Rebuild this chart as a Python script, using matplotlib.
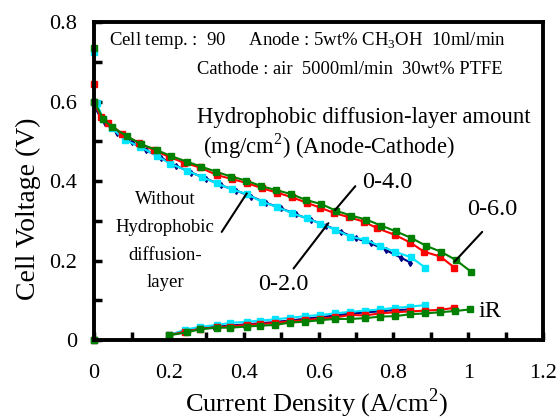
import matplotlib
matplotlib.use('Agg')
import matplotlib.pyplot as plt
from matplotlib.ticker import MultipleLocator

plt.rcParams['font.family'] = ['Liberation Serif', 'DejaVu Serif']
plt.rcParams['mathtext.fontset'] = 'custom'
plt.rcParams['mathtext.rm'] = 'Liberation Serif'

# polarization curves (A/cm2, V)
x_none = [0, 0, 0.01, 0.03, 0.06, 0.1, 0.14, 0.18, 0.22, 0.26, 0.3, 0.34, 0.38, 0.42, 0.46,
          0.5, 0.54, 0.58, 0.62, 0.66, 0.7, 0.74, 0.78, 0.82, 0.845]
v_none = [0.73, 0.6, 0.575, 0.545, 0.522, 0.497, 0.477, 0.458, 0.438, 0.421, 0.406, 0.389, 0.376,
          0.361, 0.345, 0.331, 0.316, 0.302, 0.288, 0.272, 0.256, 0.243, 0.226, 0.207, 0.195]
x_02 = [0, 0, 0.007, 0.025, 0.047, 0.083, 0.123, 0.168, 0.203, 0.248, 0.288, 0.328, 0.368, 0.408,
        0.448, 0.488, 0.529, 0.569, 0.604, 0.644, 0.684, 0.725, 0.765, 0.805, 0.847, 0.885]
v_02 = [0.725, 0.6, 0.595, 0.555, 0.533, 0.503, 0.486, 0.463, 0.444, 0.426, 0.41, 0.394, 0.379,
        0.367, 0.348, 0.335, 0.319, 0.306, 0.293, 0.278, 0.26, 0.252, 0.236, 0.222, 0.208, 0.182]
x_04 = [0, 0, 0.018, 0.038, 0.075, 0.12, 0.16, 0.2, 0.24, 0.283, 0.328, 0.368, 0.408, 0.448, 0.488,
        0.529, 0.569, 0.604, 0.64, 0.68, 0.72, 0.757, 0.805, 0.845, 0.882, 0.925, 0.963]
v_04 = [0.645, 0.6, 0.56, 0.547, 0.518, 0.496, 0.477, 0.461, 0.446, 0.434, 0.415, 0.405, 0.395,
        0.382, 0.371, 0.359, 0.345, 0.333, 0.32, 0.309, 0.298, 0.281, 0.264, 0.245, 0.222, 0.21, 0.182]
x_06 = [0, 0, 0.025, 0.047, 0.087, 0.125, 0.167, 0.205, 0.247, 0.287, 0.327, 0.367, 0.407, 0.447,
        0.487, 0.527, 0.567, 0.607, 0.647, 0.687, 0.727, 0.767, 0.807, 0.847, 0.887, 0.927, 0.967, 1.007]
v_06 = [0.735, 0.6, 0.555, 0.537, 0.513, 0.493, 0.478, 0.463, 0.449, 0.436, 0.423, 0.411, 0.401,
        0.387, 0.377, 0.367, 0.352, 0.342, 0.325, 0.313, 0.303, 0.288, 0.273, 0.257, 0.237, 0.222,
        0.201, 0.172]

# iR losses (first point is the open-circuit value at 0 A/cm2)
ir_x_none = [0, 0.2, 0.24, 0.28, 0.32, 0.36, 0.4, 0.44, 0.48, 0.52, 0.56, 0.6, 0.64, 0.68, 0.72,
             0.76, 0.8, 0.845]
ir_v_none = [0, 0.012, 0.023, 0.029, 0.033, 0.036, 0.039, 0.042, 0.045, 0.049, 0.053, 0.057,
             0.061, 0.066, 0.069, 0.072, 0.075, 0.077]
ir_x_02 = [0, 0.2, 0.243, 0.283, 0.328, 0.364, 0.408, 0.444, 0.484, 0.524, 0.564, 0.604, 0.644,
           0.684, 0.725, 0.765, 0.805, 0.845, 0.885]
ir_v_02 = [0, 0.012, 0.026, 0.033, 0.038, 0.043, 0.046, 0.049, 0.052, 0.056, 0.06, 0.063, 0.067,
           0.071, 0.074, 0.077, 0.081, 0.084, 0.088]
ir_x_04 = [0, 0.2, 0.243, 0.283, 0.328, 0.364, 0.408, 0.444, 0.484, 0.524, 0.564, 0.604, 0.644,
           0.684, 0.725, 0.765, 0.805, 0.845, 0.885, 0.925, 0.963]
ir_v_04 = [0, 0.012, 0.021, 0.028, 0.032, 0.034, 0.038, 0.04, 0.043, 0.047, 0.05, 0.054, 0.057,
           0.063, 0.062, 0.067, 0.07, 0.072, 0.074, 0.076, 0.081]
ir_x_06 = [0, 0.2, 0.248, 0.283, 0.328, 0.364, 0.408, 0.444, 0.484, 0.524, 0.564, 0.604, 0.644,
           0.684, 0.725, 0.765, 0.805, 0.845, 0.885, 0.925, 0.965, 1.005]
ir_v_06 = [0, 0.012, 0.019, 0.027, 0.031, 0.031, 0.034, 0.036, 0.038, 0.044, 0.046, 0.05, 0.053,
           0.053, 0.055, 0.059, 0.06, 0.065, 0.067, 0.07, 0.073, 0.077]

fig = plt.figure(figsize=(5.6, 4.19), dpi=100)
ax = fig.add_axes([0.168, 0.1885, 0.802, 0.759])

series = [
    (x_none, v_none, ir_x_none, ir_v_none, '#000080', 'd', 3),
    (x_02, v_02, ir_x_02, ir_v_02, '#00e5ff', 's', 4.5),
    (x_04, v_04, ir_x_04, ir_v_04, '#ff0000', 's', 4.5),
    (x_06, v_06, ir_x_06, ir_v_06, '#008000', 's', 4.5),
]
for x, v, irx, irv, c, m, ms in series:
    ax.plot(x, v, color=c, marker=m, ms=ms, lw=1.5, clip_on=False)
    ax.plot(irx[:1], irv[:1], color=c, marker=m, ms=ms, ls='none', clip_on=False)
    ax.plot(irx[1:], irv[1:], color=c, marker=m, ms=ms, lw=1.5)

ax.set_xlim(0, 1.2)
ax.set_ylim(0, 0.8)
ax.xaxis.set_major_locator(MultipleLocator(0.2))
ax.xaxis.set_minor_locator(MultipleLocator(0.1))
ax.yaxis.set_major_locator(MultipleLocator(0.2))
ax.yaxis.set_minor_locator(MultipleLocator(0.1))
ax.xaxis.set_major_formatter(plt.FuncFormatter(lambda v, p: f'{v:g}'))
ax.yaxis.set_major_formatter(plt.FuncFormatter(lambda v, p: f'{v:g}'))
ax.tick_params(which='both', direction='in', width=2.5, length=6, labelsize=16)
ax.tick_params(axis='x', pad=17)
ax.tick_params(axis='y', pad=12)
ax.tick_params(top=False, right=False)
for s in ax.spines.values():
    s.set_linewidth(2.8)

# axis titles placed explicitly (centre of the text box)
ax.text(0.4955, -0.2, 'Current Density (A/cm$^2$)', fontsize=19, ha='center', va='center',
        transform=ax.transAxes)
ax.text(-0.147, 0.412, 'Cell Voltage (V)', fontsize=20, rotation=90, ha='center', va='center',
        transform=ax.transAxes)

ax.text(0.04, 0.742, 'Cell temp. :  90     Anode : 5wt% CH$_3$OH  10ml/min', fontsize=13.5)
ax.text(0.275, 0.669, 'Cathode : air  5000ml/min  30wt% PTFE', fontsize=13.3)
ax.text(0.275, 0.546, 'Hydrophobic diffusion-layer amount', fontsize=16.3)
ax.text(0.291, 0.470, '(mg/cm$^2$) (Anode-Cathode)', fontsize=16.3)
for label, y in zip(['Without', 'Hydrophobic', 'diffusion-', 'layer'],
                    [0.342, 0.272, 0.201, 0.133]):
    ax.text(0.19, y, label, fontsize=13.5, ha='center')
ax.text(0.439, 0.126, '0-2.0', fontsize=17.5)
ax.text(0.717, 0.382, '0-4.0', fontsize=17.5)
ax.text(0.997, 0.314, '0-6.0', fontsize=17.5)
ax.text(1.027, 0.058, 'iR', fontsize=17.5)

lead = dict(arrowstyle='-', color='black', lw=1.5, shrinkA=0, shrinkB=0)
ax.annotate('', xy=(0.408, 0.369), xytext=(0.341, 0.272), arrowprops=lead)
ax.annotate('', xy=(0.626, 0.294), xytext=(0.533, 0.180), arrowprops=lead)
ax.annotate('', xy=(0.644, 0.327), xytext=(0.698, 0.387), arrowprops=lead)
ax.annotate('', xy=(0.963, 0.197), xytext=(1.037, 0.272), arrowprops=lead)

fig.savefig('out.png', dpi=100)
